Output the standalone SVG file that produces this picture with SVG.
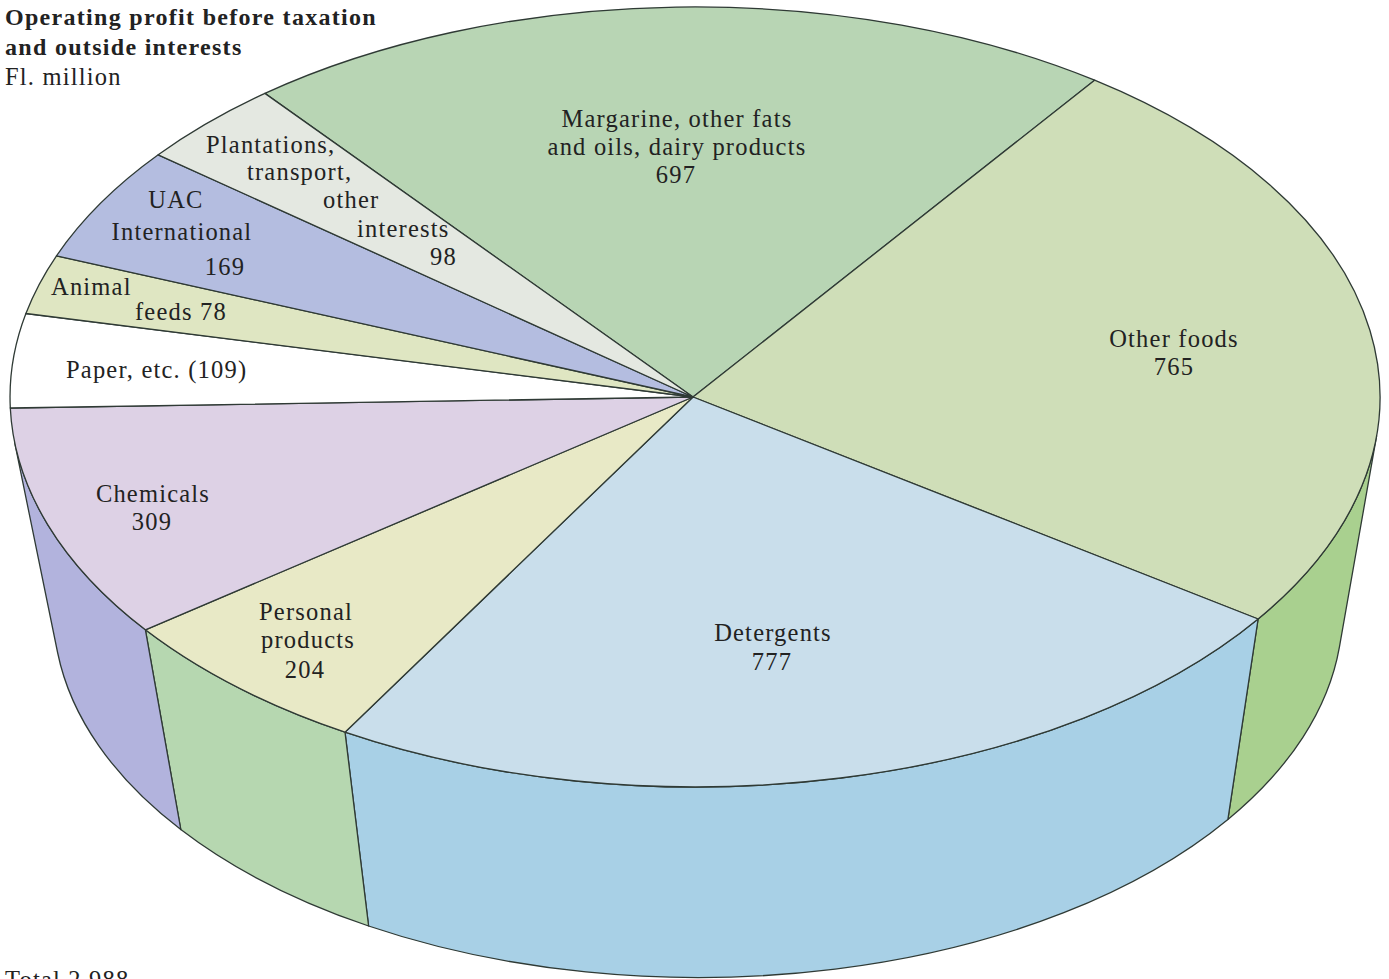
<svg xmlns="http://www.w3.org/2000/svg" width="1389" height="979" viewBox="0 0 1389 979">
<style>
.s{stroke:#2f3a35;stroke-width:1.3;stroke-linejoin:round}
.t{font-family:"Liberation Serif","Times New Roman",serif;font-size:24.5px;fill:#222;letter-spacing:1.2px}
.c{text-anchor:middle}
.h{font-family:"Liberation Serif","Times New Roman",serif;font-size:24px;font-weight:bold;fill:#222;letter-spacing:1.3px}
</style>
<rect width="1389" height="979" fill="#ffffff"/>
<g id="walls">
<path id="wall-other-foods" class="s" fill="#a9d08f" d="M1376.6 435.9 A685 390 0 0 1 1258.1 619 L1227.9 819.4 A644.6 367 0 0 0 1339.4 647.1 Z"/>
<path id="wall-detergents" class="s" fill="#a8d0e6" d="M1258.1 619 A685 390 0 0 1 345 732.2 L368.6 926 A644.6 367 0 0 0 1227.9 819.4 Z"/>
<path id="wall-personal" class="s" fill="#b6d7b0" d="M345 732.2 A685 390 0 0 1 145.4 629.8 L180.8 829.5 A644.6 367 0 0 0 368.6 926 Z"/>
<path id="wall-chemicals" class="s" fill="#b2b3dd" d="M145.4 629.8 A685 390 0 0 1 14.6 442.2 L57.7 653 A644.6 367 0 0 0 180.8 829.5 Z"/>
</g>
<g id="margarine"><path class="s" fill="#b8d5b4" d="M693 397 L264.9 93.4 A685 390 0 0 1 1094.6 80.2 Z"/>
<text class="t c" x="677" y="127">Margarine, other fats</text>
<text class="t c" x="677" y="155">and oils, dairy products</text>
<text class="t c" x="676" y="183">697</text></g>
<g id="other-foods"><path class="s" fill="#cfdeb8" d="M693 397 L1094.6 80.2 A685 390 0 0 1 1258.1 619 Z"/>
<text class="t c" x="1174" y="347">Other foods</text>
<text class="t c" x="1174" y="375">765</text></g>
<g id="detergents"><path class="s" fill="#c9deeb" d="M693 397 L1258.1 619 A685 390 0 0 1 345 732.2 Z"/>
<text class="t c" x="773" y="641">Detergents</text>
<text class="t c" x="772" y="670">777</text></g>
<g id="personal"><path class="s" fill="#e8e9c6" d="M693 397 L345 732.2 A685 390 0 0 1 145.4 629.8 Z"/>
<text class="t c" x="306" y="620">Personal</text>
<text class="t c" x="308" y="648">products</text>
<text class="t c" x="305" y="678">204</text></g>
<g id="chemicals"><path class="s" fill="#ddd1e5" d="M693 397 L145.4 629.8 A685 390 0 0 1 10.3 408 Z"/>
<text class="t c" x="153" y="502">Chemicals</text>
<text class="t c" x="152" y="530">309</text></g>
<g id="paper"><path class="s" fill="#ffffff" d="M693 397 L10.3 408 A685 390 0 0 1 25.9 313.5 Z"/>
<text class="t" x="66" y="378">Paper, etc. (109)</text></g>
<g id="animal-feeds"><path class="s" fill="#dfe6c2" d="M693 397 L25.9 313.5 A685 390 0 0 1 56.5 255.8 Z"/>
<text class="t" x="51" y="295">Animal</text>
<text class="t" x="135" y="320">feeds 78</text></g>
<g id="uac"><path class="s" fill="#b4bde0" d="M693 397 L56.5 255.8 A685 390 0 0 1 158.2 154.8 Z"/>
<text class="t c" x="176" y="208">UAC</text>
<text class="t c" x="182" y="240">International</text>
<text class="t c" x="225" y="275">169</text></g>
<g id="plantations"><path class="s" fill="#e4e8e1" d="M693 397 L158.2 154.8 A685 390 0 0 1 264.9 93.4 Z"/>
<text class="t" x="206" y="153">Plantations,</text>
<text class="t" x="247" y="180">transport,</text>
<text class="t" x="323" y="208">other</text>
<text class="t" x="357" y="237">interests</text>
<text class="t" x="430" y="265">98</text></g>
<g id="title">
<text class="h" x="5" y="25">Operating profit before taxation</text>
<text class="h" x="5" y="55">and outside interests</text>
<text class="t" x="5" y="85">Fl. million</text>
<text class="t" x="5" y="988">Total 2,988</text>
</g>
</svg>
